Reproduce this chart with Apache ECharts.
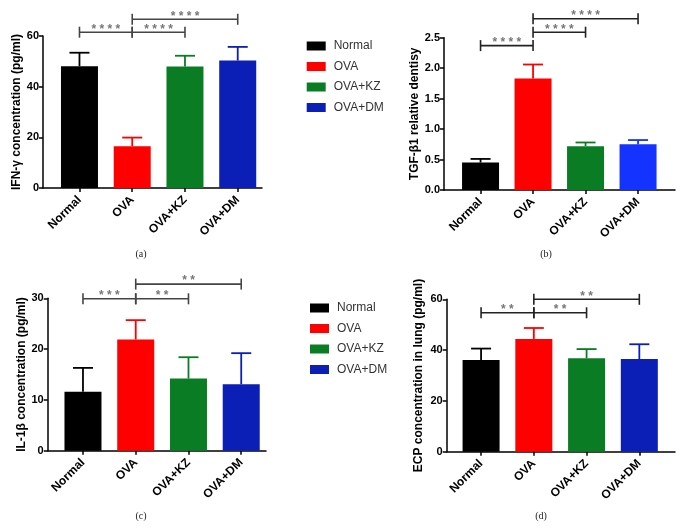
<!DOCTYPE html>
<html><head><meta charset="utf-8">
<script src="https://cdn.jsdelivr.net/npm/echarts@6/dist/echarts.min.js"></script>
<style>html,body{margin:0;padding:0;background:#fff}#c{width:682px;height:528px}</style>
</head><body><div id="c"></div>
<script>
const categories = ['Normal', 'OVA', 'OVA+KZ', 'OVA+DM'];

const ifnMean = [48.1, 16.5, 48.0, 50.3];
const ifnErr  = [5.3, 3.4, 4.2, 5.4];
const ifnSig  = [[0, 1, 61.5, '****'], [1, 2, 61.5, '****'], [1, 3, 66.6, '****']];

const tgfMean = [0.45, 1.83, 0.72, 0.75];
const tgfErr  = [0.06, 0.23, 0.06, 0.07];
const tgfSig  = [[0, 1, 2.37, '****'], [1, 2, 2.59, '****'], [1, 3, 2.81, '****']];

const il1Mean = [11.6, 21.9, 14.2, 13.1];
const il1Err  = [4.7, 3.8, 4.2, 6.1];
const il1Sig  = [[0, 1, 29.9, '***'], [1, 2, 29.9, '**'], [1, 3, 32.8, '**']];

const ecpMean = [36.1, 44.4, 36.8, 36.5];
const ecpErr  = [4.5, 4.3, 3.6, 5.8];
const ecpSig  = [[0, 1, 54.7, '**'], [1, 2, 54.7, '**'], [1, 3, 60.0, '**']];

const FONT = '"Liberation Sans", Arial, sans-serif';
const colA = ['#000000', '#ff0000', '#0a7d24', '#0b1eb6'];
const colB = ['#000000', '#ff0000', '#0a7d24', '#1433ff'];

const panels = [
  {name: 'IFN-γ concentration (pg/ml)', mean: ifnMean, err: ifnErr, sig: ifnSig, min: 0, max: 60, interval: 20, dec: 0,
   axisX: 43, top: 36, bottom: 188, xEnd: 262, barLeft: 53.1, barW: 211, nameGap: 13, colors: colA, bc: '#444', caption: '(a)', capX: 141, capY: 254},
  {name: 'TGF-β1 relative dentisy', mean: tgfMean, err: tgfErr, sig: tgfSig, min: 0, max: 2.5, interval: 0.5, dec: 1,
   axisX: 444, top: 37.7, bottom: 190, xEnd: 675, barLeft: 454.3, barW: 210, nameGap: 23, colors: colB, bc: '#222', caption: '(b)', capX: 546, capY: 254},
  {name: 'IL-1β concentration (pg/ml)', mean: il1Mean, err: il1Err, sig: il1Sig, min: 0, max: 30, interval: 10, dec: 0,
   axisX: 47.7, top: 298.3, bottom: 450.7, xEnd: 266, barLeft: 56.6, barW: 211, nameGap: 20, colors: colA, bc: '#444', caption: '(c)', capX: 141, capY: 516},
  {name: 'ECP concentration in lung (pg/ml)', mean: ecpMean, err: ecpErr, sig: ecpSig, min: 0, max: 60, interval: 20, dec: 0,
   axisX: 446.7, top: 299.3, bottom: 451.7, xEnd: 675, barLeft: 454.7, barW: 211, nameGap: 22, colors: colA, bc: '#222', caption: '(d)', capX: 541, capY: 516}
];

const grid = [], xAxis = [], yAxis = [], series = [], graphic = [];

panels.forEach((p, k) => {
  const fi = 2 * k, bi = 2 * k + 1;
  grid.push({left: p.axisX, top: p.top, width: p.xEnd - p.axisX, height: p.bottom - p.top});
  grid.push({left: p.barLeft, top: p.top, width: p.barW, height: p.bottom - p.top});
  xAxis.push({gridIndex: fi, type: 'value', min: 0, max: 1,
    axisLine: {show: true, onZero: false, lineStyle: {color: '#000', width: 1.5}},
    axisTick: {show: false}, axisLabel: {show: false}, splitLine: {show: false}});
  xAxis.push({gridIndex: bi, type: 'category', data: categories,
    axisLine: {show: false},
    axisTick: {show: true, alignWithLabel: true, length: 4, lineStyle: {color: '#000', width: 1.5}},
    axisLabel: {interval: 0, rotate: 45, margin: 10, fontFamily: FONT, fontWeight: 'bold', fontSize: 12, color: '#000'}});
  yAxis.push({gridIndex: fi, type: 'value', min: p.min, max: p.max, interval: p.interval,
    name: p.name, nameLocation: 'middle', nameGap: p.nameGap,
    nameTextStyle: {fontFamily: FONT, fontWeight: 'bold', fontSize: 12, color: '#000'},
    axisLine: {show: true, lineStyle: {color: '#000', width: 1.5}},
    axisTick: {show: true, length: 4, lineStyle: {color: '#000', width: 1.5}},
    axisLabel: {margin: 4, fontFamily: FONT, fontWeight: 'bold', fontSize: 11, color: '#000',
      formatter: v => v.toFixed(p.dec)},
    splitLine: {show: false}});
  yAxis.push({gridIndex: bi, type: 'value', min: p.min, max: p.max, show: false});

  categories.forEach((c, g) => {
    series.push({type: 'bar', name: c, xAxisIndex: bi, yAxisIndex: bi, barWidth: 37, barGap: '-100%',
      data: p.mean.map((v, i) => i === g ? v : '-'), itemStyle: {color: p.colors[g]}, z: 2, silent: true});
  });

  series.push({type: 'custom', xAxisIndex: bi, yAxisIndex: bi, z: 3, silent: true, clip: false,
    encode: {x: 0, y: 1},
    data: p.mean.map((v, i) => [i, v, p.err[i]]),
    renderItem: (params, api) => {
      const i = api.value(0), m = api.value(1), e = api.value(2);
      const a = api.coord([i, m]), b = api.coord([i, m + e]);
      const st = {stroke: p.colors[i], lineWidth: 1.8};
      return {type: 'group', children: [
        {type: 'line', shape: {x1: a[0], y1: a[1], x2: b[0], y2: b[1]}, style: st},
        {type: 'line', shape: {x1: b[0] - 10, y1: b[1], x2: b[0] + 10, y2: b[1]}, style: st}
      ]};
    }});

  series.push({type: 'custom', xAxisIndex: bi, yAxisIndex: bi, z: 4, silent: true, clip: false,
    encode: {x: 0, y: 2},
    data: p.sig.map(s => [s[0], s[1], s[2]]),
    renderItem: (params, api) => {
      const a = api.coord([api.value(0), api.value(2)]);
      const b = api.coord([api.value(1), api.value(2)]);
      const st = {stroke: p.bc, lineWidth: 1.6};
      const lbl = p.sig[params.dataIndex][3].split('').join(' ');
      return {type: 'group', children: [
        {type: 'line', shape: {x1: a[0], y1: a[1], x2: b[0], y2: b[1]}, style: st},
        {type: 'line', shape: {x1: a[0], y1: a[1] - 5.5, x2: a[0], y2: a[1] + 5.5}, style: st},
        {type: 'line', shape: {x1: b[0], y1: b[1] - 5.5, x2: b[0], y2: b[1] + 5.5}, style: st},
        {type: 'text', x: (a[0] + b[0]) / 2, y: a[1] + 3,
          style: {text: lbl, fill: '#777', font: 'bold 12px ' + FONT, textAlign: 'center', textVerticalAlign: 'bottom'}}
      ]};
    }});

  graphic.push({type: 'text', x: p.capX, y: p.capY,
    style: {text: p.caption, fill: '#222', font: '10px "Liberation Serif", "DejaVu Serif", serif', textAlign: 'center', textVerticalAlign: 'middle'}});
});

const legendBase = {data: categories, orient: 'vertical', icon: 'rect', itemWidth: 19, itemHeight: 9, itemGap: 8.5,
  padding: 0, selectedMode: false, textStyle: {fontFamily: FONT, fontSize: 12, color: '#333', padding: [0, 0, 0, 3]}};

const chart = echarts.init(document.getElementById('c'), null, {renderer: 'canvas'});
chart.setOption({
  animation: false,
  backgroundColor: '#fff',
  grid, xAxis, yAxis, series, graphic,
  legend: [Object.assign({left: 306.7, top: 40}, legendBase), Object.assign({left: 310, top: 302}, legendBase)]
});
</script></body></html>
